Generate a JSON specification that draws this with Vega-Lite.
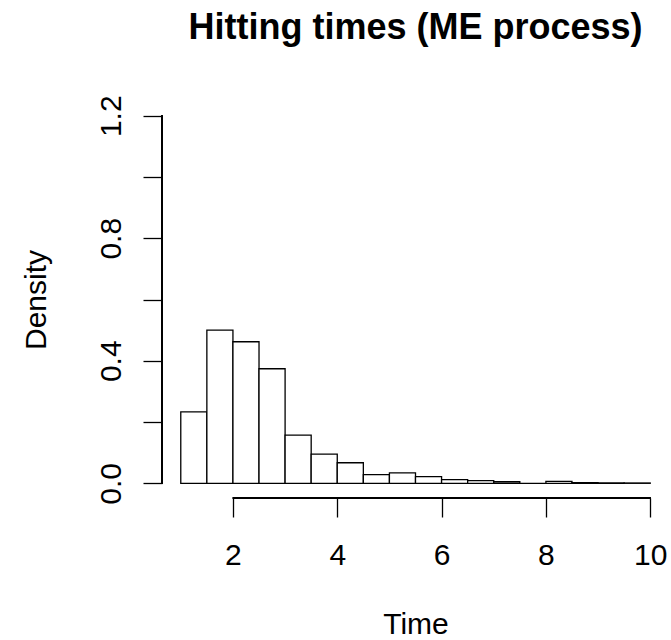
{
  "$schema": "https://vega.github.io/schema/vega-lite/v6.json",
  "width": 507,
  "height": 397,
  "autosize": {"type": "none"},
  "padding": {"left": 162, "top": 101, "right": 2, "bottom": 142},
  "background": "white",
  "title": {
    "text": "Hitting times (ME process)",
    "font": "Liberation Sans",
    "fontSize": 36,
    "fontWeight": "bold",
    "color": "black",
    "anchor": "middle",
    "frame": "group",
    "baseline": "alphabetic",
    "offset": 20
  },
  "config": {
    "view": {"stroke": null},
    "axis": {"grid": false, "labelFont": "Liberation Sans", "titleFont": "Liberation Sans"}
  },
  "data": {
    "values": [
      {"start": 1.0, "end": 1.5, "density": 0.233},
      {"start": 1.5, "end": 2.0, "density": 0.500},
      {"start": 2.0, "end": 2.5, "density": 0.462},
      {"start": 2.5, "end": 3.0, "density": 0.374},
      {"start": 3.0, "end": 3.5, "density": 0.157},
      {"start": 3.5, "end": 4.0, "density": 0.095},
      {"start": 4.0, "end": 4.5, "density": 0.067},
      {"start": 4.5, "end": 5.0, "density": 0.028},
      {"start": 5.0, "end": 5.5, "density": 0.034},
      {"start": 5.5, "end": 6.0, "density": 0.022},
      {"start": 6.0, "end": 6.5, "density": 0.012},
      {"start": 6.5, "end": 7.0, "density": 0.009},
      {"start": 7.0, "end": 7.5, "density": 0.005},
      {"start": 7.5, "end": 8.0, "density": 0.0},
      {"start": 8.0, "end": 8.5, "density": 0.006},
      {"start": 8.5, "end": 9.0, "density": 0.002},
      {"start": 9.0, "end": 9.5, "density": 0.001},
      {"start": 9.5, "end": 10.0, "density": 0.001}
    ]
  },
  "layer": [
    {
      "mark": {"type": "rect", "fill": "white", "stroke": "black", "strokeWidth": 1.3},
      "encoding": {
        "x": {
          "field": "start",
          "type": "quantitative",
          "scale": {"domain": [0.64, 10.36], "nice": false, "zero": false},
          "axis": {
            "title": "Time",
            "titleFontSize": 30,
            "titleFontWeight": "normal",
            "titleColor": "black",
            "titleX": 253.5,
            "titleY": 135,
            "titleAlign": "center",
            "titleBaseline": "alphabetic",
            "values": [2, 4, 6, 8, 10],
            "format": "d",
            "domain": false,
            "tickSize": 19,
            "tickWidth": 1.3,
            "tickColor": "black",
            "labelFontSize": 30,
            "labelColor": "black",
            "labelBaseline": "alphabetic",
            "labelPadding": 47,
            "labelFlush": false,
            "labelOverlap": false
          }
        },
        "x2": {"field": "end"},
        "y": {
          "field": "density",
          "type": "quantitative",
          "scale": {"domain": [-0.048, 1.248], "nice": false, "zero": false},
          "axis": {
            "title": "Density",
            "titleFontSize": 30,
            "titleFontWeight": "normal",
            "titleColor": "black",
            "titleAngle": 270,
            "titleX": -117,
            "titleY": 198.5,
            "titleAlign": "center",
            "titleBaseline": "alphabetic",
            "values": [0, 0.2, 0.4, 0.6, 0.8, 1.0, 1.2],
            "format": ".1f",
            "labelExpr": "indexof(['0.0','0.4','0.8','1.2'], datum.label) >= 0 ? datum.label : ''",
            "domain": false,
            "tickSize": 19,
            "tickWidth": 1.3,
            "tickColor": "black",
            "labelFontSize": 30,
            "labelColor": "black",
            "labelAngle": -90,
            "labelAlign": "center",
            "labelBaseline": "alphabetic",
            "labelPadding": 23,
            "labelFlush": false,
            "labelOverlap": false
          }
        },
        "y2": {"datum": 0}
      }
    },
    {
      "mark": {"type": "rule", "color": "black", "strokeWidth": 1.3},
      "encoding": {
        "x": {"datum": 2},
        "x2": {"datum": 10},
        "y": {"datum": -0.048}
      }
    },
    {
      "mark": {"type": "rule", "color": "black", "strokeWidth": 1.3},
      "encoding": {
        "x": {"datum": 0.64},
        "y": {"datum": 0},
        "y2": {"datum": 1.2}
      }
    }
  ]
}
